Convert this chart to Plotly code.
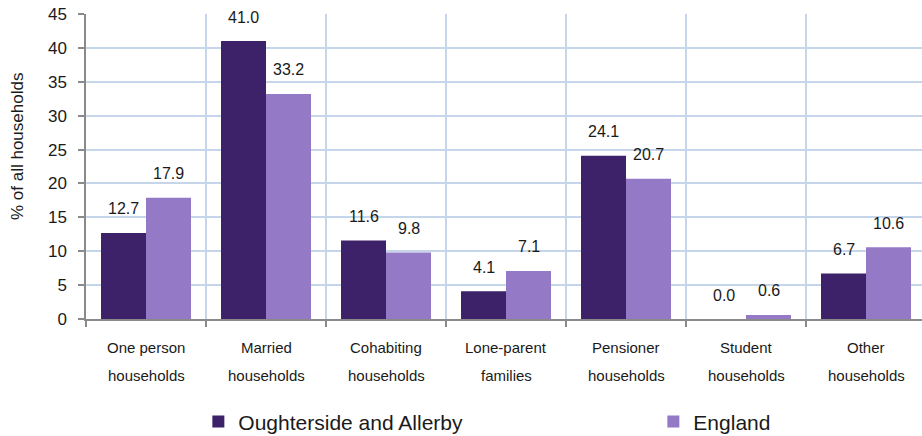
import plotly.graph_objects as go

categories = ["One person<br>households", "Married<br>households", "Cohabiting<br>households",
              "Lone-parent<br>families", "Pensioner<br>households", "Student<br>households",
              "Other<br>households"]
local_name = "Oughterside and Allerby"
local_values = [12.7, 41.0, 11.6, 4.1, 24.1, 0.0, 6.7]
england_name = "England"
england_values = [17.9, 33.2, 9.8, 7.1, 20.7, 0.6, 10.6]
y_ticks = [0, 5, 10, 15, 20, 25, 30, 35, 40, 45]
y_title = "% of all households"

DARK = "#3d2169"
LIGHT = "#9479c7"
GRID = "#c5d6eb"
AXIS = "#8a8a8a"
TEXT = "#1a1a1a"
FONT = "Liberation Sans, Arial, sans-serif"

W, H = 922, 436
L, T, B = 86, 14, 117

fig = go.Figure()
fig.add_trace(go.Bar(x=categories, y=local_values, name=local_name, legendwidth=410,
                     marker=dict(color=DARK, line=dict(width=0))))
fig.add_trace(go.Bar(x=categories, y=england_values, name=england_name,
                     marker=dict(color=LIGHT, line=dict(width=0))))

annotations = []
for vals, shift in ((local_values, -22.5), (england_values, 22.5)):
    for c, v in zip(categories, vals):
        annotations.append(dict(x=c, y=v, xref="x", yref="y", text=f"{v:.1f}",
                                showarrow=False, xshift=shift, yshift=24,
                                yanchor="middle", xanchor="center",
                                font=dict(family=FONT, size=16, color=TEXT)))
# two-line category labels with the reference's wide line spacing
for c in categories:
    for i, line in enumerate(c.split("<br>")):
        annotations.append(dict(x=c, y=0, xref="x", yref="paper", text=line,
                                showarrow=False, yshift=-28 - 28 * i,
                                yanchor="middle", xanchor="center",
                                font=dict(family=FONT, size=15, color=TEXT)))
# y-axis title
annotations.append(dict(x=-0.0813, y=0.564, xref="paper", yref="paper", text=y_title,
                        textangle=-90, showarrow=False, xanchor="center", yanchor="middle",
                        font=dict(family=FONT, size=17, color=TEXT)))

fig.update_layout(
    width=W, height=H,
    margin=dict(l=L, r=0, t=T, b=B, autoexpand=False),
    paper_bgcolor="white", plot_bgcolor="white",
    barmode="group", bargap=0.25, bargroupgap=0,
    font=dict(family=FONT, color=TEXT),
    showlegend=True,
    legend=dict(orientation="h", x=0.1344, xanchor="left", y=-0.27, yanchor="top",
                font=dict(family=FONT, size=21, color=TEXT), traceorder="normal"),
    annotations=annotations,
    xaxis=dict(range=[-0.5, -0.5 + 836 / 120], tickson="boundaries",
               showticklabels=False,
               showgrid=True, gridcolor=GRID, gridwidth=1.5,
               showline=True, linecolor=AXIS, linewidth=1.5,
               ticks="outside", ticklen=6, tickcolor=AXIS, tickwidth=1.5),
    yaxis=dict(range=[0, 45], tickvals=y_ticks, showgrid=True, gridcolor=GRID, gridwidth=1.5,
               showline=True, linecolor=AXIS, linewidth=1.5, zeroline=False,
               ticks="outside", ticklen=6, tickcolor=AXIS, tickwidth=1.5,
               ticklabelstandoff=8, ticklabeloverflow="allow",
               tickfont=dict(family=FONT, size=17, color=TEXT)),
)

fig.write_html("out.html", config={"displayModeBar": False},
               post_script="document.body.style.margin='0px'; document.body.style.overflow='hidden';")
